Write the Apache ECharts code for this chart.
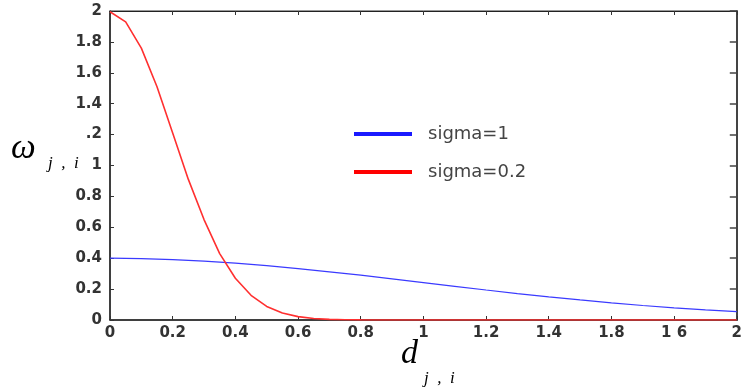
<!DOCTYPE html>
<html><head><meta charset="utf-8">
<script src="https://cdn.jsdelivr.net/npm/echarts@6/dist/echarts.min.js"></script>
<style>html,body{margin:0;padding:0;background:#fff}#c{width:745px;height:387px}</style>
</head><body><div id="c"></div>
<script>
// distances d (x values)
var xBlue = [0,0.1,0.2,0.3,0.4,0.5,0.6,0.7,0.8,0.9,1.0,1.1,1.2,1.3,1.4,1.5,1.6,1.7,1.8,1.9,2.0];
var sigma1 = [0.40,0.397,0.391,0.381,0.368,0.352,0.333,0.312,0.29,0.266,0.242,0.218,0.194,0.171,0.15,0.13,0.111,0.094,0.079,0.066,0.054];
var xRed = [0,0.05,0.1,0.15,0.2,0.25,0.3,0.35,0.4,0.45,0.5,0.55,0.6,0.65,0.7,0.75,0.8,1.0,1.2,1.4,1.6,1.8,2.0];
var sigma02 = [1.995,1.93,1.76,1.51,1.21,0.91,0.65,0.43,0.27,0.16,0.088,0.045,0.022,0.01,0.004,0.002,0.001,0,0,0,0,0,0];
var xTickLabels = ['0','0.2','0.4','0.6','0.8','1','1.2','1.4','1.8','1 6','2'];
var yTickLabels = ['0','0.2','0.4','0.6','0.8','1','.2','1.4','1.6','1.8','2'];
var seriesNames = ['sigma=1','sigma=0.2'];

function pairs(xs, ys){ return xs.map(function(x,i){return [x, ys[i]];}); }
var labelFont = {fontFamily:'DejaVu Sans', fontWeight:'bold', fontSize:15, color:'#333'};
var chart = echarts.init(document.getElementById('c'));
chart.setOption({
  animation:false,
  backgroundColor:'#fff',
  grid:{left:110,right:2,top:11,bottom:67,show:true,borderColor:'#333',borderWidth:1},
  legend:{
    orient:'vertical', left:349, top:120, itemGap:20,
    itemWidth:58, itemHeight:4, icon:'rect',
    textStyle:{fontFamily:'DejaVu Sans', fontSize:18, color:'#444', padding:[0,0,0,11]},
    data:seriesNames
  },
  xAxis:[{
    type:'value', min:0, max:2, interval:0.2, position:'bottom',
    axisLine:{show:true,onZero:false,lineStyle:{color:'#222',width:1.5}},
    axisTick:{show:true,inside:true,length:4,lineStyle:{color:'#333'}},
    splitLine:{show:false},
    axisLabel:Object.assign({show:true,margin:6, formatter:function(v){return xTickLabels[Math.round(v/0.2)];}}, labelFont)
  },{
    type:'value', min:0, max:2, interval:0.2, position:'top',
    axisLine:{show:true,onZero:false,lineStyle:{color:'#222',width:1}},
    axisTick:{show:true,inside:true,length:4,lineStyle:{color:'#333'}},
    axisLabel:{show:false}, splitLine:{show:false}
  }],
  yAxis:[{
    type:'value', min:0, max:2, interval:0.2, position:'left',
    axisLine:{show:true,onZero:false,lineStyle:{color:'#222',width:1.5}},
    axisTick:{show:true,inside:true,length:4,lineStyle:{color:'#333'}},
    splitLine:{show:false},
    axisLabel:Object.assign({show:true,margin:8, formatter:function(v){return yTickLabels[Math.round(v/0.2)];}}, labelFont)
  },{
    type:'value', min:0, max:2, interval:0.2, position:'right',
    axisLine:{show:true,onZero:false,lineStyle:{color:'#444',width:2}},
    axisTick:{show:true,inside:true,length:7,lineStyle:{color:'#444',width:1.5}},
    axisLabel:{show:false}, splitLine:{show:false}
  }],
  series:[{
    name:seriesNames[0], type:'line', data:pairs(xBlue,sigma1), symbol:'none', smooth:false,
    itemStyle:{color:'#1a1aff'}, lineStyle:{color:'#3a3aff',width:1.2}
  },{
    name:seriesNames[1], type:'line', data:pairs(xRed,sigma02), symbol:'none', smooth:false,
    itemStyle:{color:'#ff0000'}, lineStyle:{color:'#ff3030',width:1.6}
  }],
  graphic:[
    {type:'text', left:11, top:131, style:{text:'ω', font:'italic 35px "Liberation Serif", "Times New Roman", serif', fill:'#000'}},
    {type:'text', left:48, top:155, style:{text:'j  ,  i', font:'italic 17px "Liberation Serif", "Times New Roman", serif', fill:'#000'}},
    {type:'text', left:401, top:337, style:{text:'d', font:'italic 34px "Liberation Serif", "Times New Roman", serif', fill:'#000'}},
    {type:'text', left:424, top:370, style:{text:'j  ,  i', font:'italic 17px "Liberation Serif", "Times New Roman", serif', fill:'#000'}}
  ]
});
</script></body></html>
